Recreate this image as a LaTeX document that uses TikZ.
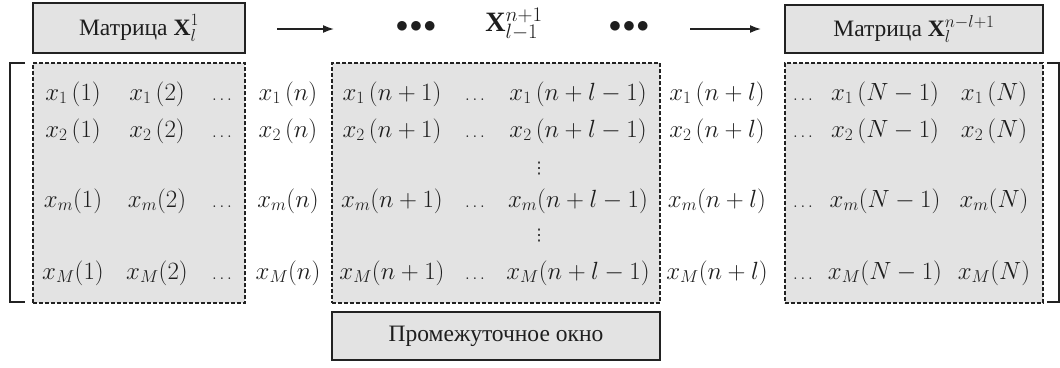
\documentclass[tikz,border=0pt]{standalone}
\usepackage{fontspec}
\setmainfont{Liberation Serif}
\newfontfamily\djs{DejaVu Sans}
\usetikzlibrary{arrows.meta}
\definecolor{boxfill}{HTML}{E3E3E3}
\definecolor{edge}{HTML}{222222}
\definecolor{ink}{HTML}{1E1E1E}
\begin{document}
\begin{tikzpicture}[x=1pt,y=-1pt,
  win/.style={draw=edge, line width=1.8pt, fill=boxfill, inner sep=0pt, text=ink, font=\fontsize{23.5}{26}\selectfont},
  dwin/.style={draw=edge, line width=1.5pt, dash pattern=on 4pt off 2pt, fill=boxfill, inner sep=0pt},
  cell/.style={font=\fontsize{24}{26}\selectfont, inner sep=0pt, anchor=base, text=ink},
  dd/.style={font=\fontsize{17}{18}\selectfont, inner sep=0pt, anchor=base, text=ink},
  vd/.style={font=\djs\fontsize{16}{18}\selectfont, inner sep=0pt, text=ink},
  arr/.style={draw=edge, line width=1.6pt, -{Latex[length=11pt,width=8pt]}},
  brk/.style={draw=edge, line width=1.6pt}
]
\useasboundingbox (0,0) rectangle (1060,367);
% boxes
\node[win, minimum width=212, minimum height=50] (t1) at (139,28) {Матрица $\mathbf{X}_l^1$};
\node[win, minimum width=258, minimum height=48] (t3) at (914,29) {Матрица $\mathbf{X}_l^{n-l+1}$};
\node[dwin, minimum width=212, minimum height=240] (b1) at (139,183) {};
\node[dwin, minimum width=328, minimum height=240] (b2) at (496,183) {};
\node[dwin, minimum width=258, minimum height=240] (b3) at (914,183) {};
\node[win, minimum width=328, minimum height=48] (bw) at (496,336) {Промежуточное окно};
% top middle
\coordinate (a1s) at (277,29); \coordinate (a1e) at (334,29);
\coordinate (a2s) at (690,29); \coordinate (a2e) at (761,29);
\draw[arr] (a1s) -- (a1e);
\draw[arr] (a2s) -- (a2e);
\node[font=\fontsize{30}{30}\selectfont, inner sep=0pt, text=ink] (d1) at (416,27) {$\bullet\!\bullet\!\bullet$};
\node[font=\fontsize{30}{30}\selectfont, inner sep=0pt, text=ink] (d2) at (629,27) {$\bullet\!\bullet\!\bullet$};
\node[font=\fontsize{28}{30}\selectfont, inner sep=0pt, text=ink] (xm) at (514,24) {$\mathbf{X}_{l-1}^{n+1}$};
% brackets
\draw[brk] (25,63) -- (10,63) -- (10,302) -- (25,302);
\draw[brk] (1047,63) -- (1059,63) -- (1059,302) -- (1047,302);
% rows
\foreach \s/\y/\sp/\nm in {1/100/\,/a, 2/137/\,/b, m/207//c, M/279//d}{
  \node[cell] (\nm1) at (73,\y) {$x_{\s}\sp(1)$};
  \node[cell] (\nm2) at (157,\y) {$x_{\s}\sp(2)$};
  \node[dd] (\nm3) at (222,\y) {$\ldots$};
  \node[cell] (\nm4) at (288,\y) {$x_{\s}\sp(n)$};
  \node[cell] (\nm5) at (392,\y) {$x_{\s}\sp(n+1)$};
  \node[dd] (\nm6) at (475,\y) {$\ldots$};
  \node[cell] (\nm7) at (578,\y) {$x_{\s}\sp(n+l-1)$};
  \node[cell] (\nm8) at (717,\y) {$x_{\s}\sp(n+l)$};
  \node[dd] (\nm9) at (803,\y) {$\ldots$};
  \node[cell] (\nm10) at (885,\y) {$x_{\s}\sp(N-1)$};
  \node[cell] (\nm11) at (994,\y) {$x_{\s}\sp(N)$};
}
\node[vd] (v1) at (539,169) {⋮};
\node[vd] (v2) at (539,236) {⋮};
\end{tikzpicture}
\end{document}
